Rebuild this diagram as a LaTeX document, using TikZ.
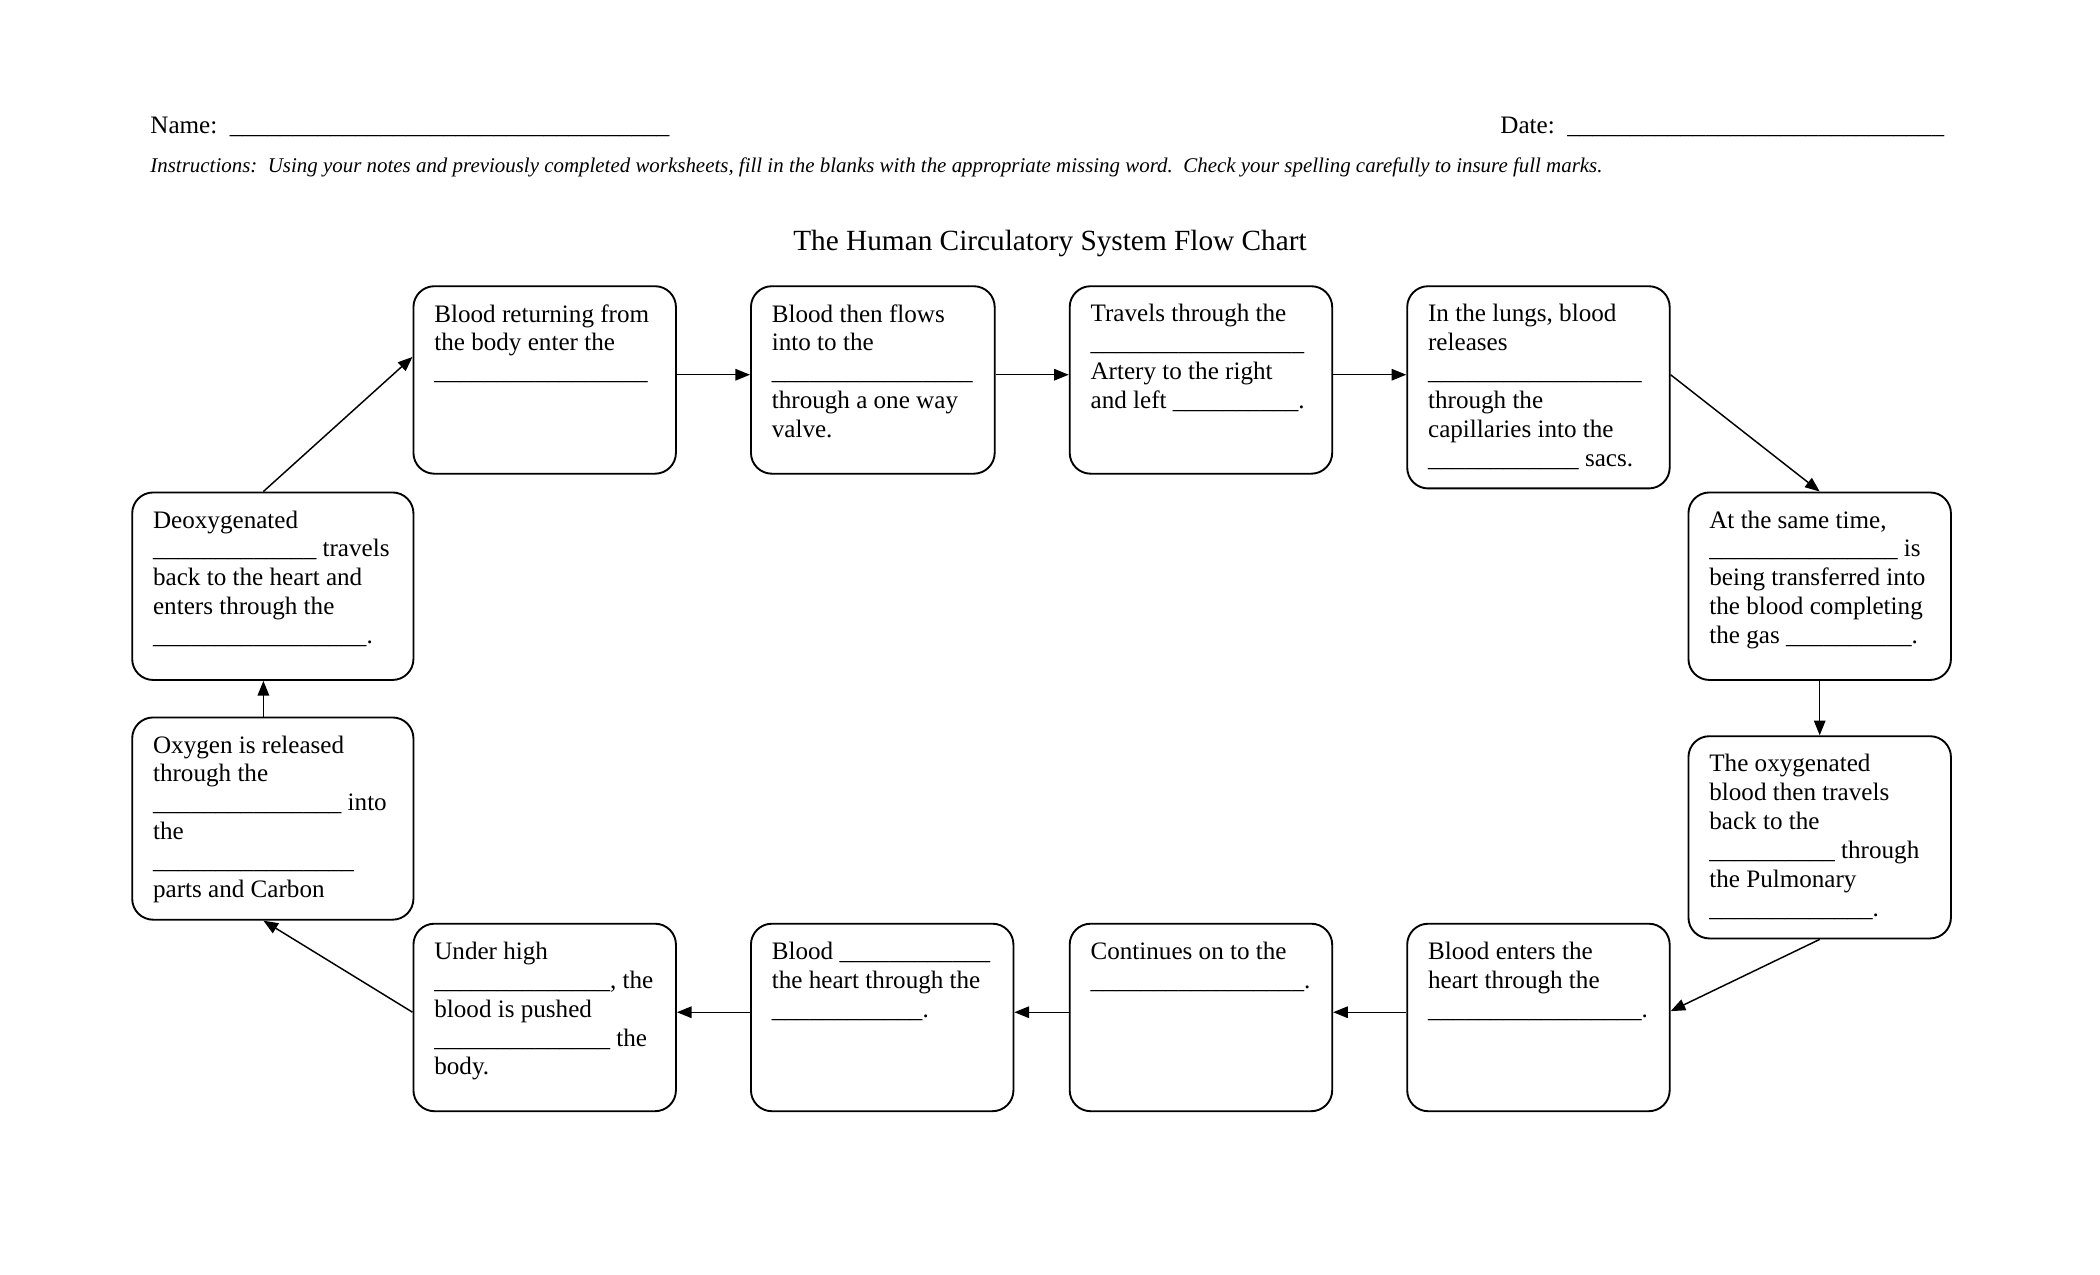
\documentclass[tikz,border=0pt]{standalone}
\usepackage{fontspec}
\setmainfont{Liberation Serif}
\usepackage{tikz}
\usetikzlibrary{arrows.meta}
\newcommand{\upx}{0.64pt}
\newcommand{\blank}[1]{\foreach \n in {1,...,#1}{\_}}
\newcommand{\boxfont}{\fontsize{12}{13.8}\selectfont}
\tikzstyle{stage}=[draw, rounded corners=10pt, line width=0.9pt, inner sep=0pt, anchor=north west]
\tikzstyle{words}=[inner sep=0pt, anchor=north west, align=left, font=\boxfont]
\tikzstyle{flow}=[-{Triangle[length=7pt, width=5.5pt]}, line width=0.7pt]

\begin{document}
\begin{tikzpicture}[x=\upx, y=-\upx]
    \useasboundingbox (0,0) rectangle (1568,952);
    % heading
    \node[inner sep=0pt, anchor=base west, font=\fontsize{12}{14}\selectfont] (name) at (112,100) {Name:~~\blank{35}};
    \node[inner sep=0pt, anchor=base west, font=\fontsize{12}{14}\selectfont] (date) at (1120,100) {Date:~~\blank{30}};
    \node[inner sep=0pt, anchor=base west, font=\fontsize{10}{12}\selectfont\itshape] (instr) at (112,129)
        {Instructions:~~Using your notes and previously completed worksheets, fill in the blanks with the appropriate missing word.~~Check your spelling carefully to insure full marks.};
    \node[inner sep=0pt, anchor=base, font=\fontsize{14}{16}\selectfont] (title) at (784,187) {The Human Circulatory System Flow Chart};

    % boxes
    \node[stage, minimum width=196*\upx, minimum height=140*\upx] (retn) at (308,213) {};
    \node[stage, minimum width=182*\upx, minimum height=140*\upx] (valve) at (560,213) {};
    \node[stage, minimum width=196*\upx, minimum height=140*\upx] (artery) at (798,213) {};
    \node[stage, minimum width=196*\upx, minimum height=151*\upx] (lungs) at (1050,213) {};
    \node[stage, minimum width=196*\upx, minimum height=140*\upx] (gas) at (1260,367) {};
    \node[stage, minimum width=196*\upx, minimum height=151*\upx] (oxyg) at (1260,549) {};
    \node[stage, minimum width=196*\upx, minimum height=140*\upx] (enter) at (1050,689) {};
    \node[stage, minimum width=196*\upx, minimum height=140*\upx] (cont) at (798,689) {};
    \node[stage, minimum width=196*\upx, minimum height=140*\upx] (pump) at (560,689) {};
    \node[stage, minimum width=196*\upx, minimum height=140*\upx] (press) at (308,689) {};
    \node[stage, minimum width=210*\upx, minimum height=151*\upx] (release) at (98,535) {};
    \node[stage, minimum width=210*\upx, minimum height=140*\upx] (deoxy) at (98,367) {};

    % box texts
    \node[words] (retnT) at ([shift={(16,14)}]retn.north west)
        {Blood returning from\\the body enter the\\\blank{17}};
    \node[words] (valveT) at ([shift={(16,14)}]valve.north west)
        {Blood then flows\\into to the\\\blank{16}\\through a one way\\valve.};
    \node[words] (arteryT) at ([shift={(16,14)}]artery.north west)
        {Travels through the\\\blank{17}\\Artery to the right\\and left \blank{10}.};
    \node[words] (lungsT) at ([shift={(16,14)}]lungs.north west)
        {In the lungs, blood\\releases\\\blank{17}\\through the\\capillaries into the\\\blank{12} sacs.};
    \node[words] (gasT) at ([shift={(16,14)}]gas.north west)
        {At the same time,\\\blank{15} is\\being transferred into\\the blood completing\\the gas \blank{10}.};
    \node[words] (oxygT) at ([shift={(16,14)}]oxyg.north west)
        {The oxygenated\\blood then travels\\back to the\\\blank{10} through\\the Pulmonary\\\blank{13}.};
    \node[words] (enterT) at ([shift={(16,14)}]enter.north west)
        {Blood enters the\\heart through the\\\blank{17}.};
    \node[words] (contT) at ([shift={(16,14)}]cont.north west)
        {Continues on to the\\\blank{17}.};
    \node[words] (pumpT) at ([shift={(16,14)}]pump.north west)
        {Blood \blank{12}\\the heart through the\\\blank{12}.};
    \node[words] (pressT) at ([shift={(16,14)}]press.north west)
        {Under high\\\blank{14}, the\\blood is pushed\\\blank{14} the\\body.};
    \node[words] (releaseT) at ([shift={(16,14)}]release.north west)
        {Oxygen is released\\through the\\\blank{15} into\\the\\\blank{16}\\parts and Carbon};
    \node[words] (deoxyT) at ([shift={(16,14)}]deoxy.north west)
        {Deoxygenated\\\blank{13} travels\\back to the heart and\\enters through the\\\blank{17}.};

    % connectors
    \draw[flow] ([yshift=2.5pt]retn.east) -- ([yshift=2.5pt]valve.west);
    \draw[flow] ([yshift=2.5pt]valve.east) -- ([yshift=2.5pt]artery.west);
    \draw[flow] ([yshift=2.5pt]artery.east) -- ([yshift=2.5pt]artery.east -| lungs.west);
    \draw[flow] ([yshift=6pt]lungs.east) -- (gas.north);
    \draw[flow] (gas.south) -- (oxyg.north);
    \draw[flow] (oxyg.south) -- ([yshift=3pt]enter.east);
    \draw[flow] ([yshift=2.5pt]enter.west) -- ([yshift=2.5pt]cont.east);
    \draw[flow] ([yshift=2.5pt]cont.west) -- ([yshift=2.5pt]pump.east);
    \draw[flow] ([yshift=2.5pt]pump.west) -- ([yshift=2.5pt]press.east);
    \draw[flow] ([yshift=2.5pt]press.west) -- ([xshift=-4.5pt]release.south);
    \draw[flow] ([xshift=-4.5pt]release.north) -- ([xshift=-4.5pt]deoxy.south);
    \draw[flow] ([xshift=-4.5pt]deoxy.north) -- ([yshift=11pt]retn.west);
\end{tikzpicture}
\end{document}
